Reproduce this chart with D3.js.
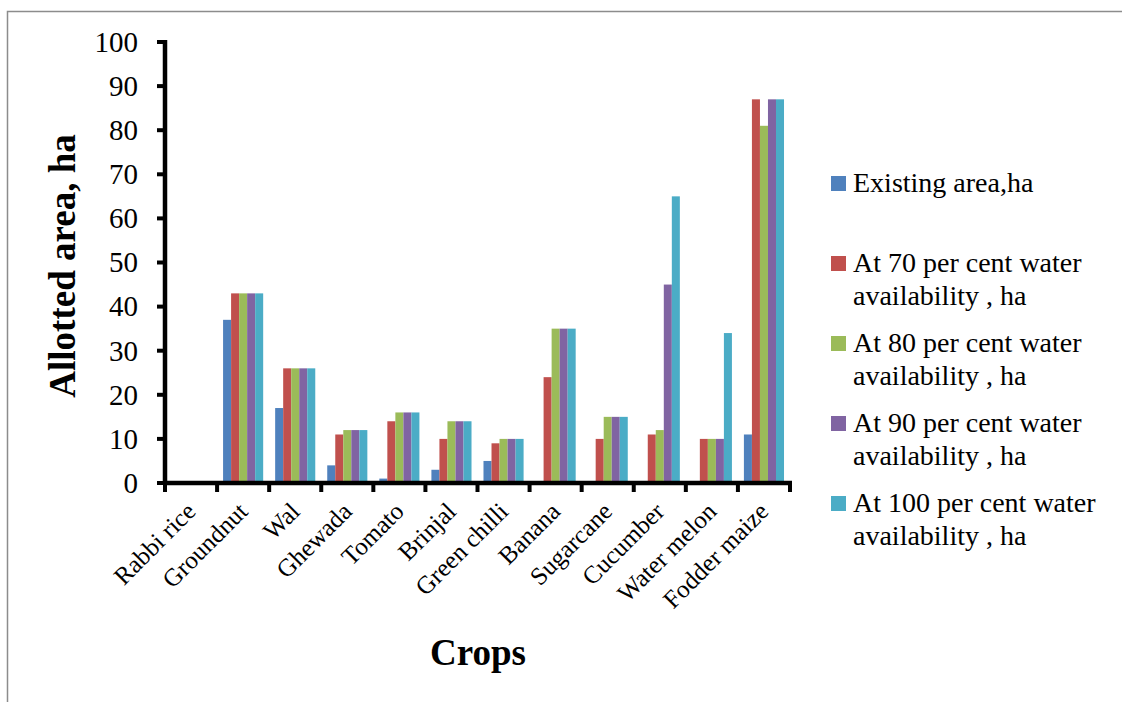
<!DOCTYPE html>
<html>
<head>
<meta charset="utf-8">
<script src="https://cdn.jsdelivr.net/npm/d3@7"></script>
<style>
  html, body { margin: 0; padding: 0; background: #fff; }
  svg, svg text { font-family: "Liberation Serif", "Times New Roman", Times, serif; }
</style>
</head>
<body>
<svg id="chart" width="1122" height="702"></svg>
<script>
// Crops and allotted area (ha) under each water-availability scenario
const crops = ["Rabbi rice", "Groundnut", "Wal", "Ghewada", "Tomato", "Brinjal",
  "Green chilli", "Banana", "Sugarcane", "Cucumber", "Water melon", "Fodder maize"];

const seriesNames = [
  "Existing area,ha",
  "At 70 per cent water availability , ha",
  "At 80 per cent water availability , ha",
  "At 90 per cent water availability , ha",
  "At 100 per cent water availability , ha"
];

const existingArea = [0, 37, 17, 4, 1, 3, 5, 0, 0, 0, 0, 11];
const water70 = [0, 43, 26, 11, 14, 10, 9, 24, 10, 11, 10, 87];
const water80 = [0, 43, 26, 12, 16, 14, 10, 35, 15, 12, 10, 81];
const water90 = [0, 43, 26, 12, 16, 14, 10, 35, 15, 45, 10, 87];
const water100 = [0, 43, 26, 12, 16, 14, 10, 35, 15, 65, 34, 87];

const yTicks = [0, 10, 20, 30, 40, 50, 60, 70, 80, 90, 100];

const seriesValues = [existingArea, water70, water80, water90, water100];
const colors = ["#4F81BD", "#C0504D", "#9BBB59", "#8064A2", "#4BACC6"];

// Legend text broken into lines as laid out beside the plot
const legendLines = [
  ["Existing area,ha"],
  ["At 70 per cent water", "availability , ha"],
  ["At 80 per cent water", "availability , ha"],
  ["At 90 per cent water", "availability , ha"],
  ["At 100 per cent water", "availability , ha"]
];

const FONT = "'Liberation Serif', 'Times New Roman', Times, serif";

const svg = d3.select("#chart").attr("font-family", FONT);

// outer frame
svg.append("rect")
  .attr("x", 7.5).attr("y", 11.5)
  .attr("width", 1300).attr("height", 900)
  .attr("fill", "none").attr("stroke", "#8c8c8c").attr("stroke-width", 1.5);

const plot = { left: 165, right: 790, top: 42, bottom: 483 };

const x0 = d3.scaleBand()
  .domain(crops)
  .range([plot.left, plot.right])
  .paddingInner(0.23)
  .paddingOuter(0.115);

const x1 = d3.scaleBand()
  .domain(d3.range(seriesNames.length))
  .range([0, x0.bandwidth()]);

const y = d3.scaleLinear().domain([0, 100]).range([plot.bottom, plot.top]);

// bars
const groups = svg.append("g").selectAll("g")
  .data(crops)
  .join("g")
  .attr("transform", d => `translate(${x0(d)},0)`);

groups.selectAll("rect")
  .data((c, ci) => seriesValues.map((vals, si) => ({ si, v: vals[ci] })))
  .join("rect")
  .attr("x", d => x1(d.si))
  .attr("width", x1.bandwidth())
  .attr("y", d => y(d.v))
  .attr("height", d => y(0) - y(d.v))
  .attr("fill", d => colors[d.si]);

// category boundary positions for x ticks
const step = x0.step();
const boundaries = d3.range(crops.length + 1).map(i => plot.left + i * step);

// y axis
const yAxis = svg.append("g");
yAxis.append("line")
  .attr("x1", plot.left).attr("x2", plot.left)
  .attr("y1", y(100) - 2).attr("y2", plot.bottom + 2)
  .attr("stroke", "#000").attr("stroke-width", 4.5);
yAxis.selectAll("line.tick")
  .data(yTicks)
  .join("line")
  .attr("class", "tick")
  .attr("x1", plot.left - 8).attr("x2", plot.left)
  .attr("y1", d => y(d)).attr("y2", d => y(d))
  .attr("stroke", "#000").attr("stroke-width", 4);
yAxis.selectAll("text")
  .data(yTicks)
  .join("text")
  .attr("x", 138)
  .attr("y", d => y(d))
  .attr("dy", "0.34em")
  .attr("text-anchor", "end")
  .attr("font-family", FONT)
  .attr("font-size", 29)
  .attr("fill", "#000")
  .text(d => d);

// x axis
const xAxis = svg.append("g");
xAxis.append("line")
  .attr("x1", plot.left - 2).attr("x2", plot.right + 2)
  .attr("y1", plot.bottom).attr("y2", plot.bottom)
  .attr("stroke", "#000").attr("stroke-width", 4.5);
xAxis.selectAll("line.tick")
  .data(boundaries)
  .join("line")
  .attr("class", "tick")
  .attr("x1", d => d).attr("x2", d => d)
  .attr("y1", plot.bottom).attr("y2", plot.bottom + 9)
  .attr("stroke", "#000").attr("stroke-width", 4);
xAxis.selectAll("text")
  .data(crops)
  .join("text")
  .attr("transform", d => `translate(${x0(d) + x0.bandwidth() / 2 + 6},${plot.bottom + 30}) rotate(-45)`)
  .attr("text-anchor", "end")
  .attr("font-family", FONT)
  .attr("font-size", 25)
  .attr("fill", "#000")
  .text(d => d);

// axis titles
svg.append("text")
  .attr("transform", "translate(75,266) rotate(-90)")
  .attr("text-anchor", "middle")
  .attr("font-family", FONT)
  .attr("font-size", 37)
  .attr("font-weight", "bold")
  .attr("fill", "#000")
  .text("Allotted area, ha");

svg.append("text")
  .attr("x", 478).attr("y", 665)
  .attr("text-anchor", "middle")
  .attr("font-family", FONT)
  .attr("font-size", 37)
  .attr("font-weight", "bold")
  .attr("fill", "#000")
  .text("Crops");

// legend
const legendBaselines = [192, 272, 352, 432, 512];
const legend = svg.append("g").selectAll("g")
  .data(legendLines)
  .join("g")
  .attr("transform", (d, i) => `translate(831,${legendBaselines[i]})`);
legend.append("rect")
  .attr("x", 0).attr("y", -16)
  .attr("width", 15).attr("height", 15)
  .attr("fill", (d, i) => colors[i]);
legend.append("text")
  .attr("x", 22)
  .attr("font-family", FONT)
  .attr("font-size", 28)
  .attr("fill", "#000")
  .selectAll("tspan")
  .data(d => d)
  .join("tspan")
  .attr("x", 22)
  .attr("dy", (d, i) => i === 0 ? 0 : 33)
  .text(d => d);
</script>
</body>
</html>
